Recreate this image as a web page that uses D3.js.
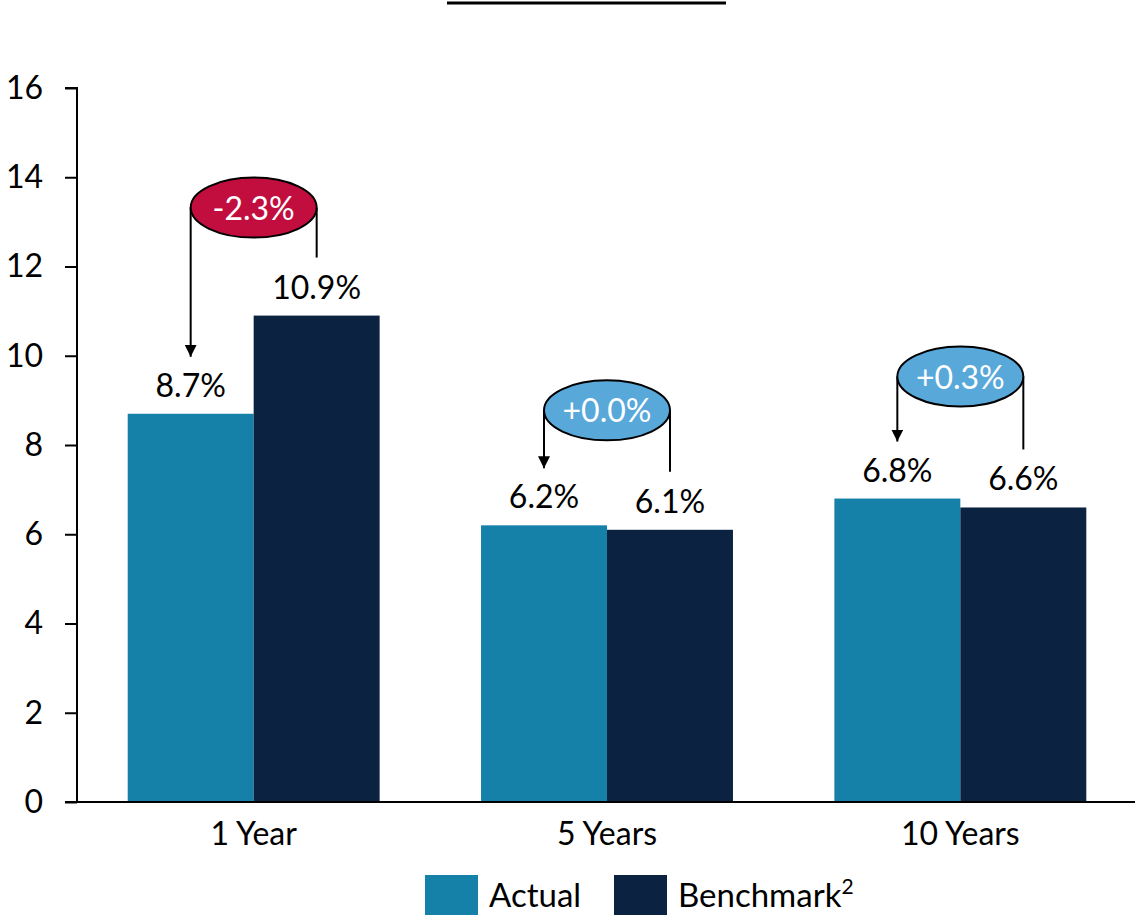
<!DOCTYPE html>
<html>
<head>
<meta charset="utf-8">
<script src="https://cdn.jsdelivr.net/npm/d3@7"></script>
<style>
  html, body { margin: 0; padding: 0; background: #fff; }
  svg { display: block; font-family: Lato, "Open Sans", sans-serif; }
</style>
</head>
<body>
<svg id="chart" width="1135" height="919"></svg>
<script>
// Annualised returns by horizon
const categories = ["1 Year", "5 Years", "10 Years"];
const actual = [8.7, 6.2, 6.8];
const benchmark = [10.9, 6.1, 6.6];
const difference = ["-2.3%", "+0.0%", "+0.3%"];
const yTicks = [0, 2, 4, 6, 8, 10, 12, 14, 16];

const colors = { actual: "#1580A8", benchmark: "#0B2240", neg: "#C20E3F", pos: "#58A8DA" };
// how far each callout bubble floats above the taller bar (px)
const calloutLift = [108, 115, 122];
const fontSize = 32;

const svg = d3.select("#chart");
const plotLeft = 77, plotRight = 1137, plotTop = 88, plotBottom = 802;

const y = d3.scaleLinear().domain([0, 16]).range([plotBottom, plotTop]);
const x = d3.scaleBand().domain(categories).range([plotLeft, plotRight])
  .paddingInner(0.287).paddingOuter(0.1435);
const sub = d3.scaleBand().domain(["actual", "benchmark"]).range([0, x.bandwidth()]);

// title underline
svg.append("line").attr("x1", 447).attr("x2", 726).attr("y1", 3).attr("y2", 3)
  .attr("stroke", "#000").attr("stroke-width", 3);

// y axis
const yAxis = svg.append("g").attr("transform", `translate(${plotLeft},0)`)
  .call(d3.axisLeft(y).tickValues(yTicks).tickSize(12).tickPadding(22).tickFormat(d3.format("d")));
yAxis.select(".domain").attr("stroke", "#000").attr("stroke-width", 2).attr("d", `M-12,${plotTop}H0V${plotBottom}`);
yAxis.selectAll(".tick line").attr("stroke", "#000").attr("stroke-width", 2);
yAxis.selectAll(".tick text").attr("font-size", fontSize).attr("fill", "#000").attr("font-family", "Lato, sans-serif");

// bars
const rows = categories.map((c, i) => ({ c, i, actual: actual[i], benchmark: benchmark[i] }));
const groups = svg.append("g").selectAll("g").data(rows).join("g")
  .attr("transform", d => `translate(${x(d.c)},0)`);

["actual", "benchmark"].forEach(k => {
  groups.append("rect")
    .attr("x", sub(k)).attr("width", sub.bandwidth())
    .attr("y", d => y(d[k])).attr("height", d => y(0) - y(d[k]))
    .attr("fill", colors[k]);
  groups.append("text")
    .attr("x", sub(k) + sub.bandwidth() / 2)
    .attr("y", d => y(d[k]) - 17)
    .attr("text-anchor", "middle").attr("font-size", fontSize).attr("fill", "#000")
    .text(d => d[k].toFixed(1) + "%");
});

// x axis
const xAxis = svg.append("g").attr("transform", `translate(0,${plotBottom})`)
  .call(d3.axisBottom(x).tickSize(0).tickPadding(20));
xAxis.select(".domain").attr("stroke", "#000").attr("stroke-width", 2).attr("d", `M${plotLeft - 12},0H${plotRight}`);
xAxis.selectAll(".tick text").attr("font-size", fontSize).attr("fill", "#000").attr("font-family", "Lato, sans-serif");

// difference callouts
svg.append("defs").append("marker")
  .attr("id", "arrow").attr("viewBox", "0 0 10 10").attr("refX", 10).attr("refY", 5)
  .attr("markerWidth", 12).attr("markerHeight", 12).attr("markerUnits", "userSpaceOnUse")
  .attr("orient", "auto")
  .append("path").attr("d", "M0,0L10,5L0,10Z").attr("fill", "#000");

const rx = 63, ry = 30;
rows.forEach(d => {
  const cx = x(d.c) + x.bandwidth() / 2;
  const cy = y(Math.max(d.actual, d.benchmark)) - calloutLift[d.i];
  const g = svg.append("g");
  g.append("line").attr("x1", cx - rx).attr("x2", cx - rx)
    .attr("y1", cy).attr("y2", y(d.actual) - 57)
    .attr("stroke", "#000").attr("stroke-width", 2).attr("marker-end", "url(#arrow)");
  g.append("line").attr("x1", cx + rx).attr("x2", cx + rx)
    .attr("y1", cy).attr("y2", y(d.benchmark) - 58)
    .attr("stroke", "#000").attr("stroke-width", 2);
  const neg = difference[d.i].startsWith("-");
  g.append("ellipse").attr("cx", cx).attr("cy", cy).attr("rx", rx).attr("ry", ry)
    .attr("fill", neg ? colors.neg : colors.pos).attr("stroke", "#000").attr("stroke-width", 2);
  g.append("text").attr("x", cx).attr("y", cy + 12).attr("text-anchor", "middle")
    .attr("font-size", fontSize).attr("fill", "#fff").text(difference[d.i]);
});

// legend
const legend = svg.append("g");
const items = [{ k: "actual", label: "Actual", x: 425 }, { k: "benchmark", label: "Benchmark", x: 614 }];
items.forEach(it => {
  legend.append("rect").attr("x", it.x).attr("y", 875).attr("width", 53).attr("height", 40).attr("fill", colors[it.k]);
  const t = legend.append("text").attr("x", it.x + 64).attr("y", 907).attr("font-size", 33).attr("fill", "#000").text(it.label);
  if (it.k === "benchmark") t.append("tspan").attr("font-size", 21).attr("dy", -13).text("2");
});
</script>
</body>
</html>
